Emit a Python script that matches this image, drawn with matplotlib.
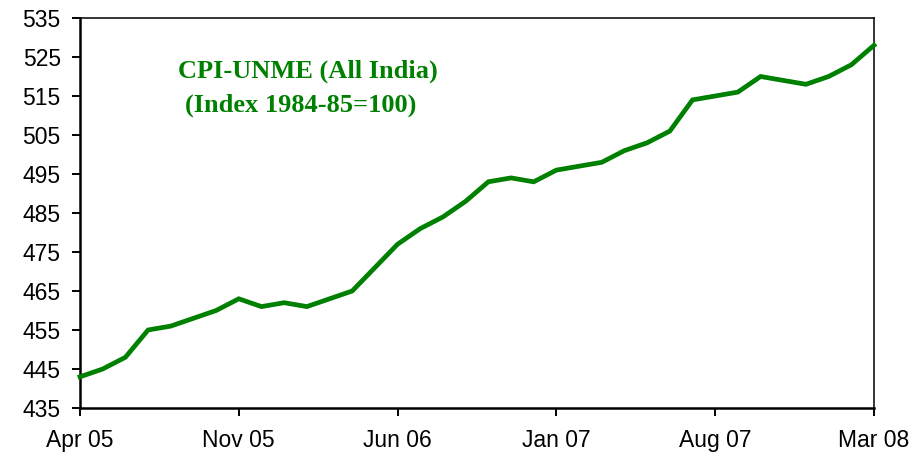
import numpy as np
import matplotlib.pyplot as plt
from matplotlib.patches import Rectangle

# monthly CPI-UNME values, Apr 05 .. Mar 08
months = ["Apr 05", "May 05", "Jun 05", "Jul 05", "Aug 05", "Sep 05", "Oct 05",
          "Nov 05", "Dec 05", "Jan 06", "Feb 06", "Mar 06", "Apr 06", "May 06",
          "Jun 06", "Jul 06", "Aug 06", "Sep 06", "Oct 06", "Nov 06", "Dec 06",
          "Jan 07", "Feb 07", "Mar 07", "Apr 07", "May 07", "Jun 07", "Jul 07",
          "Aug 07", "Sep 07", "Oct 07", "Nov 07", "Dec 07", "Jan 08", "Feb 08",
          "Mar 08"]
cpi = [443, 445, 448, 455, 456, 458, 460, 463, 461, 462, 461, 463, 465, 471,
       477, 481, 484, 488, 493, 494, 493, 496, 497, 498, 501, 503, 506, 514,
       515, 516, 520, 519, 518, 520, 523, 528]
tick_labels = ["Apr 05", "Nov 05", "Jun 06", "Jan 07", "Aug 07", "Mar 08"]
y_ticks = list(range(435, 536, 10))

plt.rcParams['font.family'] = ['Liberation Sans', 'DejaVu Sans']

fig = plt.figure(figsize=(9.17, 4.63), dpi=100)
ax = fig.add_axes([80 / 917, 1 - 408 / 463, (874 - 80) / 917, (408 - 18) / 463])

x = np.arange(len(months))
ax.plot(x, cpi, color='#008000', lw=3.4, solid_joinstyle='miter', clip_on=False, zorder=3)

ax.set_xlim(0, len(months) - 1)
ax.set_ylim(435, 535)
ax.set_yticks(y_ticks)
ax.set_xticks([months.index(m) for m in tick_labels])
ax.set_xticklabels(tick_labels)

ax.tick_params(axis='both', direction='out', length=5.8, width=1.4, labelsize=16.5, colors='black')
ax.tick_params(axis='x', pad=9.5)
ax.tick_params(axis='y', pad=8)

ax.spines['left'].set_linewidth(1.8)
ax.spines['bottom'].set_linewidth(1.8)
ax.spines['top'].set_linewidth(1.1)
ax.spines['right'].set_linewidth(1.1)

serif = ['Liberation Serif', 'DejaVu Serif']
t1 = ax.text(0.287, 0.846, "CPI-UNME (All India)", transform=ax.transAxes, ha='center', va='baseline',
             fontsize=19, fontweight='bold', color='#008000', family=serif)
t2 = ax.text(0.278, 0.760, "(Index 1984-85=100)", transform=ax.transAxes, ha='center', va='baseline',
             fontsize=19, fontweight='bold', color='#008000', family=serif)
# the original text box cuts off the bottom of the second line
clip = Rectangle((0, 1 - 113 / 463), 1, 113 / 463, transform=fig.transFigure, visible=False)
fig.add_artist(clip)
t2.set_clip_path(clip)

fig.savefig("out.png", dpi=100)
